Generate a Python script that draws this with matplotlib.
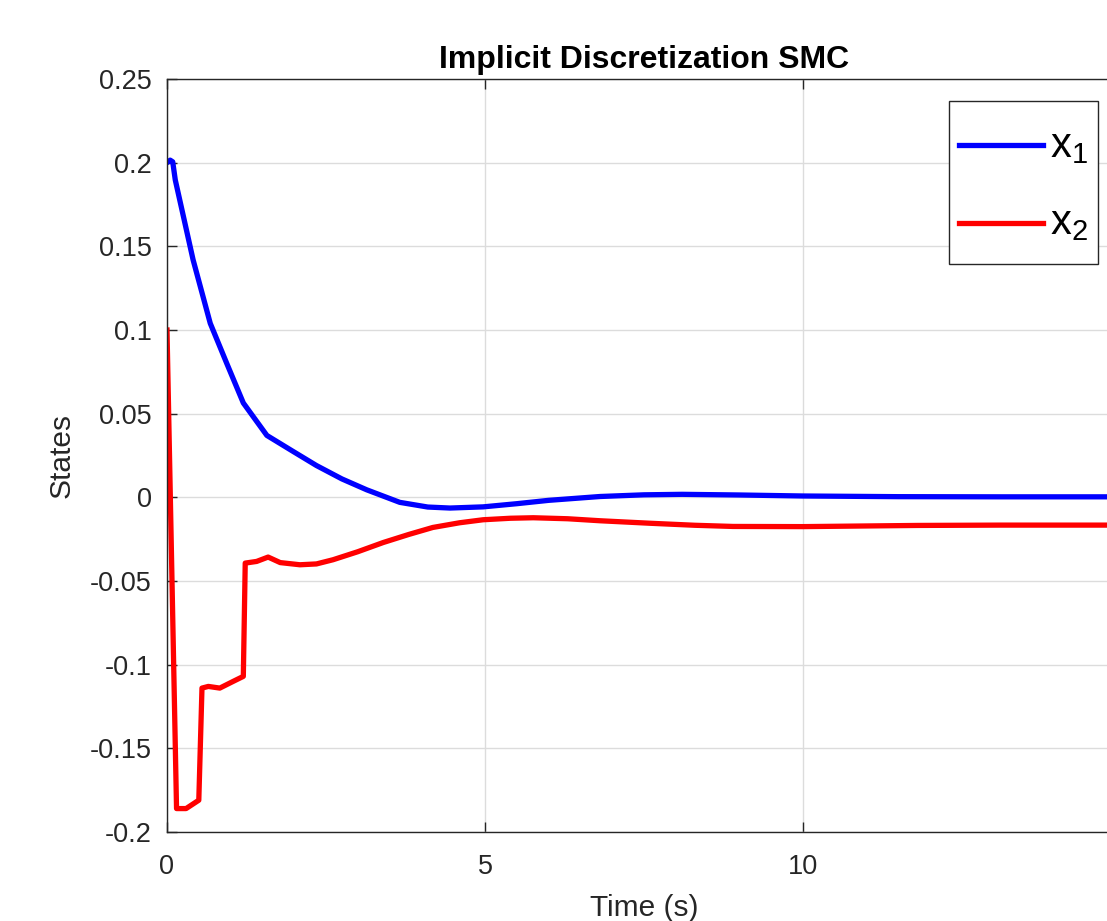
import matplotlib
matplotlib.use("Agg")
import matplotlib.pyplot as plt
from matplotlib.legend_handler import HandlerLine2D

# Data
t_x1 = [0.0, 0.05, 0.09, 0.13, 0.41, 0.68, 0.94, 1.2, 1.57, 1.98, 2.35, 2.75, 3.14, 3.66, 4.1, 4.45,
        4.97, 5.5, 6.0, 6.81, 7.5, 8.1, 9.0, 10.0, 11.5, 13.1, 15.0]
x1 = [0.200, 0.2015, 0.2005, 0.1897, 0.142, 0.104, 0.080, 0.0564, 0.0370, 0.0275, 0.0190, 0.011, 0.0045,
      -0.0030, -0.0058, -0.0064, -0.0057, -0.0038, -0.0018, 0.0005, 0.0015, 0.0018, 0.0014, 0.0008,
      0.0004, 0.0003, 0.0003]

t_x2 = [0.0, 0.15, 0.3, 0.42, 0.5, 0.55, 0.65, 0.83, 1.04, 1.2, 1.23, 1.41, 1.59, 1.78, 2.09, 2.35,
        2.61, 3.0, 3.4, 3.8, 4.18, 4.6, 4.97, 5.4, 5.76, 6.3, 6.81, 7.6, 8.3, 8.9, 10.0, 11.8, 13.1, 15.0]
x2 = [0.100, -0.186, -0.186, -0.183, -0.181, -0.114, -0.113, -0.114, -0.110, -0.107, -0.0393, -0.0383,
      -0.0357, -0.0390, -0.0403, -0.0398, -0.0373, -0.0325, -0.0270, -0.0222, -0.0180, -0.0152, -0.0134,
      -0.0125, -0.0122, -0.0128, -0.0140, -0.0155, -0.0167, -0.0174, -0.0175, -0.0168, -0.0166, -0.0166]

x_ticks = [0, 5, 10, 15]
y_ticks = [-0.2, -0.15, -0.1, -0.05, 0, 0.05, 0.1, 0.15, 0.2, 0.25]
y_ticklabels = ["-0.2", "-0.15", "-0.1", "-0.05", "0", "0.05", "0.1", "0.15", "0.2", "0.25"]

plt.rcParams['font.family'] = ['Liberation Sans', 'DejaVu Sans']
plt.rcParams['mathtext.default'] = 'regular'


class LoweredLine(HandlerLine2D):
    """Legend line drawn a little lower, level with the centre of the 'x'."""
    shift = 8.0  # points

    def create_artists(self, legend, orig_handle, xdescent, ydescent, width, height,
                       fontsize, trans):
        return super().create_artists(legend, orig_handle, xdescent, ydescent, width,
                                      height - 2 * self.shift, fontsize, trans)


W, H = 1107, 921
fig = plt.figure(figsize=(W / 100, H / 100), dpi=100)
ax = fig.add_axes([167 / W, 1 - 832 / H, (1121 - 167) / W, (832 - 79) / H])

l1, = ax.plot(t_x1, x1, color=(0, 0, 1), lw=3.8, label=r'$x_1$', solid_joinstyle='round')
l2, = ax.plot(t_x2, x2, color=(1, 0, 0), lw=3.8, label=r'$x_2$', solid_joinstyle='round')

ax.set_xlim(0, 15)
ax.set_ylim(-0.2, 0.25)
ax.set_xticks(x_ticks)
ax.set_yticks(y_ticks)
ax.set_yticklabels(y_ticklabels)

axcol = '#262626'
ax.grid(True, color='#dcdcdc', lw=1.0)
ax.set_axisbelow(True)
for s in ax.spines.values():
    s.set_color(axcol)
    s.set_linewidth(1.0)
ax.tick_params(direction='in', length=7, width=1.0, colors=axcol, labelsize=19.5,
               top=True, right=True)
ax.tick_params(axis='x', pad=16)
ax.tick_params(axis='y', pad=11)
for lab in ax.get_xticklabels() + ax.get_yticklabels():
    lab.set_color(axcol)

ax.set_title('Implicit Discretization SMC', fontsize=23, fontweight='bold', color='black', pad=8)
ax.set_xlabel('Time (s)', fontsize=21.5, color=axcol, labelpad=10)
ax.set_ylabel('States', fontsize=21.5, color=axcol, labelpad=10)

leg = ax.legend(loc='upper right', bbox_to_anchor=(1098 / W, 1 - 101 / H),
                bbox_transform=fig.transFigure, fontsize=30, handlelength=2.0,
                handleheight=1.99, handletextpad=0.17, labelspacing=0.33, borderpad=0.25,
                fancybox=False, framealpha=1, edgecolor=axcol, borderaxespad=0,
                handler_map={l1: LoweredLine(), l2: LoweredLine()})
leg.get_frame().set_linewidth(1.0)

fig.savefig('out.png', dpi=100)
